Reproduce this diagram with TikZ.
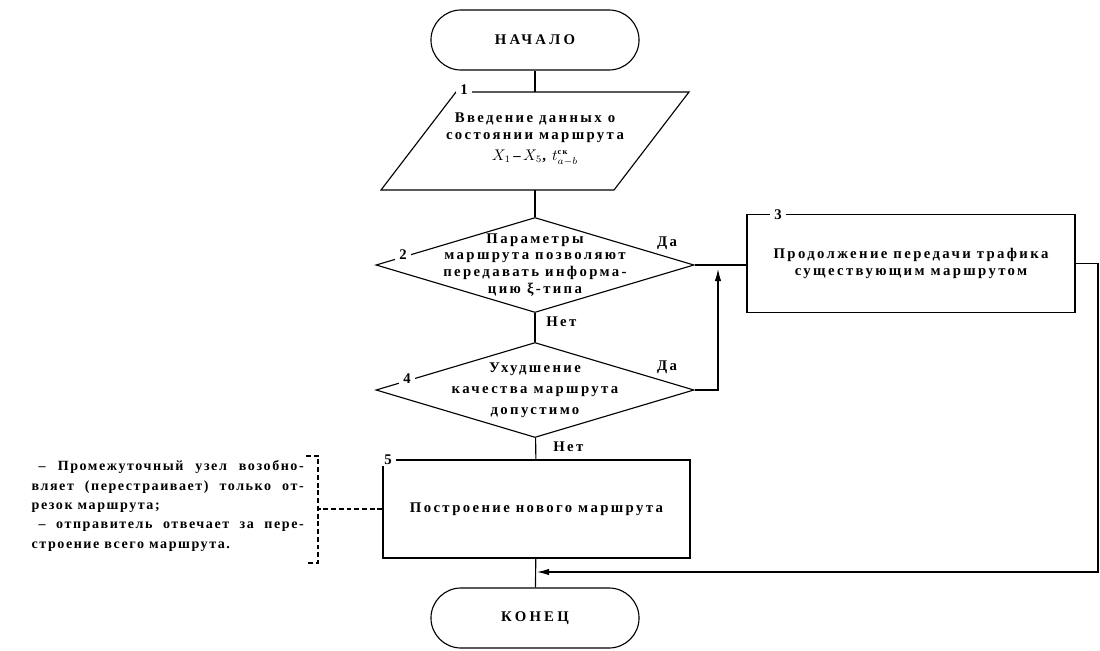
\documentclass[tikz,border=0pt]{standalone}
\usepackage{fontspec}
\setmainfont{Liberation Serif}
\newfontfamily\blockfont[LetterSpace=16]{Liberation Serif}
\newfontfamily\termfont[LetterSpace=22]{Liberation Serif}
\newfontfamily\notefont[LetterSpace=11]{Liberation Serif}
\usetikzlibrary{shapes.geometric,arrows.meta}
\begin{document}
\begin{tikzpicture}[x=0.025cm, y=-0.025cm, line width=0.8pt,
  every node/.style = {align=center,
    font=\blockfont\bfseries\fontsize{10.5}{12}\selectfont},
  term/.style = {draw, rounded corners=0.75cm,
    minimum width=5.2cm, minimum height=1.5cm,
    font=\termfont\bfseries\fontsize{10.5}{12}\selectfont},
  decision/.style = {draw, diamond, minimum width=7.95cm,
    minimum height=2.375cm, inner sep=0pt},
  block/.style = {draw, minimum height=2.45cm},
  num/.style = {fill=white, inner xsep=3pt, inner ysep=1pt},
  arr/.style = {-{Latex[length=3mm,width=1.6mm]}},
  brace/.style = {dash pattern=on 3.5pt off 2pt}]
  \fill[white] (0,0) rectangle (1100,651);
  \useasboundingbox (0,0) rectangle (1100,651);

  \node[term] (start) at (535,40) {НАЧАЛО};
  \node (in1) at (535,139) {Введение данных о\\состоянии маршрута\\[3pt]
    $X_1$\,\textendash\,$X_5$,~$t^{\mbox{\fontsize{6}{6}\selectfont ск}}_{a-b}$};
  \coordinate (in1tl) at (456,92);
  \coordinate (in1tr) at (689,92);
  \coordinate (in1br) at (614,190);
  \coordinate (in1bl) at (381,190);
  \draw (in1tl) -- (in1tr) -- (in1br) -- (in1bl) -- cycle;
  \node[decision] (d2) at (535,265) {};
  \node (q2) at (d2) {Параметры\\маршрута позволяют\\передавать информа-\\цию ξ-типа};
  \node[decision] (d4) at (535,390) {};
  \node[font=\blockfont\bfseries\fontsize{10.5}{15}\selectfont] (q4) at (d4)
    {Ухудшение\\качества маршрута\\допустимо};
  \node[block, minimum width=8.2cm] (b3) at (911,263.5)
    {Продолжение передачи трафика\\существующим маршрутом};
  \node[block, minimum width=7.675cm] (b5) at (536.5,509) {Построение нового маршрута};
  \node[term] (endn) at (535,618) {КОНЕЦ};

  \node[num] (n1) at (464,90) {1};
  \node[num] (n2) at (403,255) {2};
  \node[num] (n3) at (778,215) {3};
  \node[num] (n4) at (407,379) {4};
  \node[num] (n5) at (388,460) {5};

  \node (yes2) at (667,243) {Да};
  \node[anchor=west] (no2) at (541,322) {Нет};
  \node (yes4) at (667,367) {Да};
  \node[anchor=west] (no4) at (548,447) {Нет};

  \draw (start) -- (start |- in1tl);
  \draw (start |- in1bl) -- (d2);
  \draw (d2) -- (d4);
  \draw (d4) -- (b5);
  \draw (b5) -- (endn);
  \draw (d2.east) -- (d2.east -| b3.west);

  \coordinate (up) at (718,269);
  \draw[arr] (d4.east) -| (up);
  \coordinate (back) at (1098,572);
  \coordinate (join) at (537,572);
  \draw[arr] (b3.east) -| (back) -- (join);

  \node[anchor=east, align=left,
    font=\notefont\bfseries\fontsize{10}{13.8}\selectfont] (note) at (309,506)
    {\makebox[6.8cm][s]{\hspace{0.5em}– Промежуточный узел возобно-}\\
     \makebox[6.8cm][s]{вляет (перестраивает) только от-}\\
     резок маршрута;\\
     \makebox[6.8cm][s]{\hspace{0.5em}– отправитель отвечает за пере-}\\
     строение всего маршрута.};
  \coordinate (bt) at (318,456);
  \coordinate (bb) at (318,563);
  \coordinate (bm) at (318,509);
  \draw[brace] ([xshift=-0.3cm]bt) -- (bt) -- (bb) -- ([xshift=-0.3cm]bb);
  \draw[brace] (b5.west) -- (bm);
\end{tikzpicture}
\end{document}
